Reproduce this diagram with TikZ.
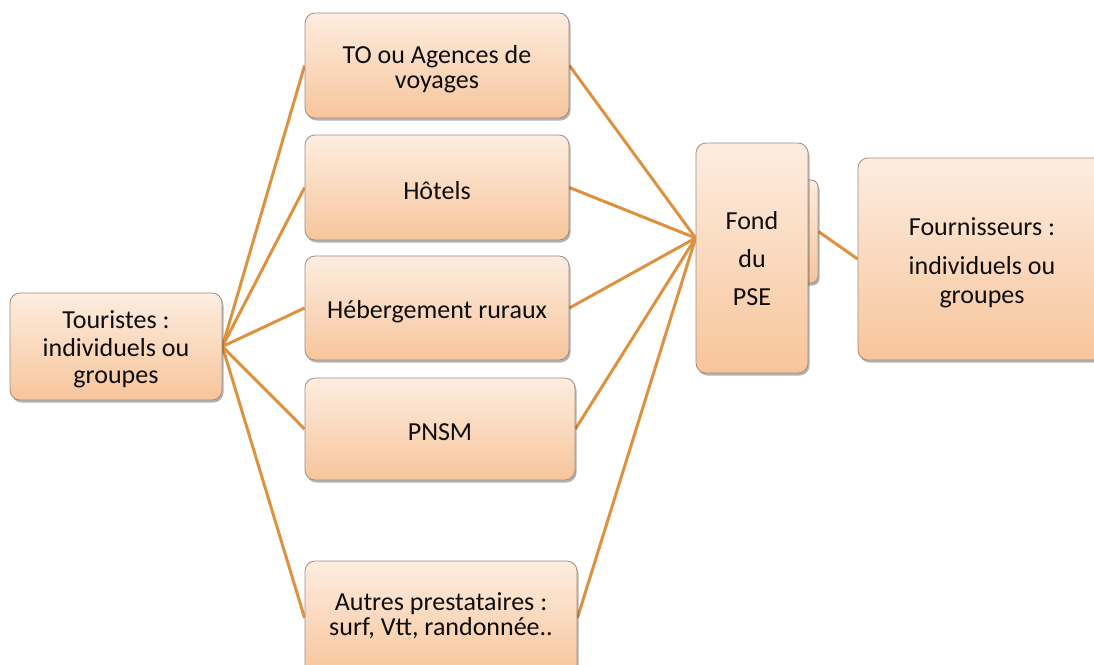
\documentclass[tikz,border=0pt]{standalone}
\usepackage{fontspec}
\setmainfont{Carlito}
\usetikzlibrary{shadows,backgrounds}
\definecolor{linkc}{HTML}{DE9240}
\definecolor{topc}{HTML}{FDEDE0}
\definecolor{botc}{HTML}{F7C59B}
\definecolor{edgec}{HTML}{9C8E86}
\tikzset{
  x=1pt,y=-1pt,
  box/.style={rectangle, rounded corners=10pt, draw=edgec, line width=0.8pt,
    top color=topc, bottom color=botc, inner sep=0pt,
    drop shadow={shadow xshift=1.5pt, shadow yshift=-2.5pt, opacity=0.3, fill=black}},
  lbl/.style={align=center, inner sep=0pt, text=black!95, font=\fontsize{26}{25}\selectfont},
  link/.style={draw=linkc, line width=3pt}
}
\begin{document}
\begin{tikzpicture}
\useasboundingbox (0,0) rectangle (1094,664);
\clip (0,0) rectangle (1094,664);
% boxes
\node[box, minimum width=212pt, minimum height=107pt] (tour) at (116,346.5) {};
\node[box, minimum width=264pt, minimum height=105pt] (to) at (437,65.5) {};
\node[box, minimum width=264pt, minimum height=105pt] (hot) at (437,187.5) {};
\node[box, minimum width=264pt, minimum height=104pt] (heb) at (437,308) {};
\node[box, minimum width=270pt, minimum height=102pt] (pnsm) at (440,429) {};
\node[box, minimum width=272pt, minimum height=114pt] (aut) at (441,618) {};
\node[box, minimum width=28pt, minimum height=103pt, rounded corners=7pt] (back) at (804,231.5) {};
\node[box, minimum width=112pt, minimum height=230pt] (fond) at (752,258) {};
\node[box, minimum width=247pt, minimum height=202pt] (four) at (981.5,259) {};
% texts
\node[lbl, font=\fontsize{26}{27.5}\selectfont] (tourt) at (116,349.5)
  {Touristes :\\individuels ou\\groupes};
\node[lbl] (tot) at (437,69.5) {TO ou Agences de\\voyages};
\node[lbl] (hott) at (437,190.5) {Hôtels};
\node[lbl] (hebt) at (437,312) {Hébergement ruraux};
\node[lbl] (pnsmt) at (440,432) {PNSM};
\node[lbl] (autt) at (441,616) {Autres prestataires :\\surf, Vtt, randonnée..};
\node[lbl, font=\fontsize{26}{38}\selectfont] (fondt) at (752,259) {Fond\\du\\PSE};
\node[lbl, font=\fontsize{26}{29}\selectfont] (fourt) at (982,263)
  {Fournisseurs :\\[10pt]individuels ou\\groupes};
\coordinate (fin) at ([yshift=20pt]fond.west);
% connectors
\begin{scope}[on background layer]
\foreach \b in {to,hot,heb,pnsm,aut}{
  \draw[link] (tour.east) -- (\b.west);
  \draw[link] (\b.east) -- (fin);
}
\draw[link] (back.east) -- (four.west);
\end{scope}
\end{tikzpicture}
\end{document}
